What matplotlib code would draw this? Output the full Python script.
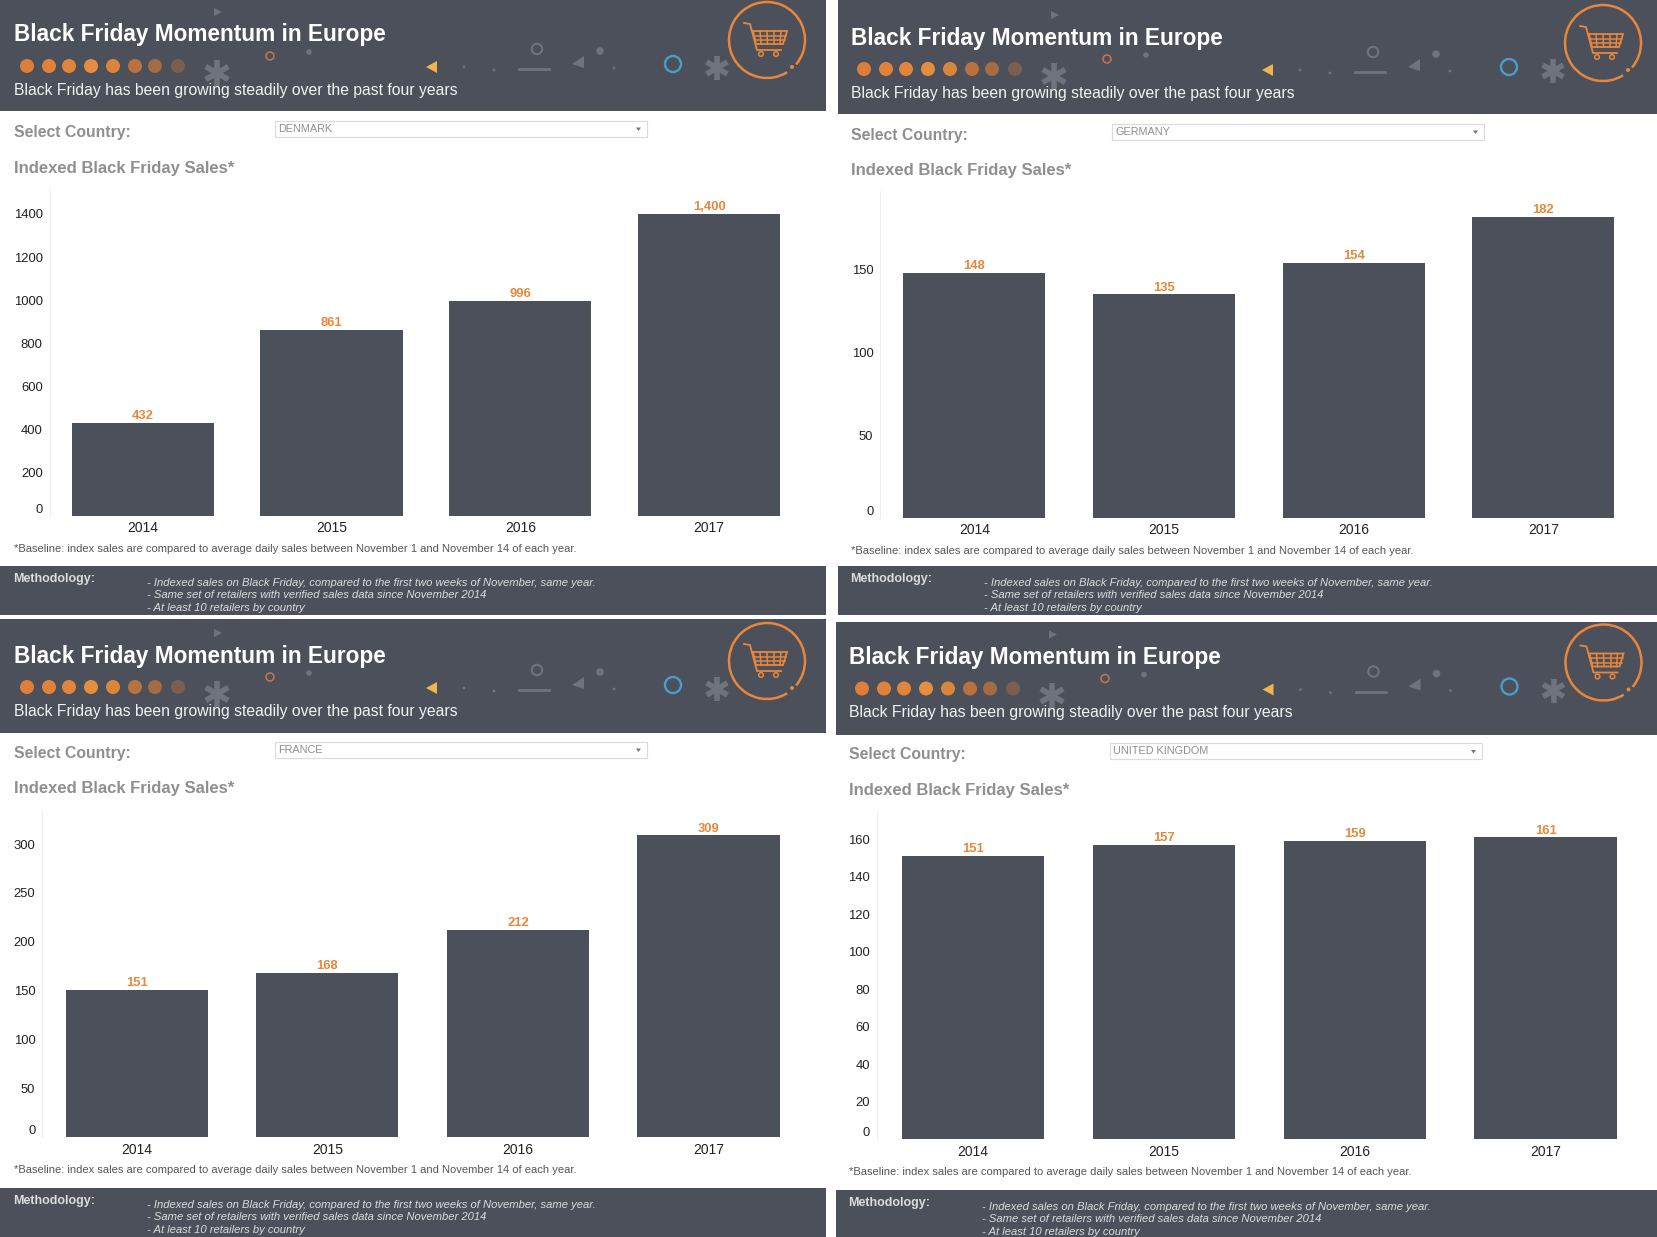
import numpy as np
import matplotlib
matplotlib.use("Agg")
import matplotlib.pyplot as plt
from matplotlib.patches import Rectangle, Circle, Polygon, Arc

plt.rcParams['font.family'] = ['Liberation Sans', 'DejaVu Sans']

W, H = 1657, 1237
S = 1657 / 1568

years = ['2014', '2015', '2016', '2017']
denmark = [432, 861, 996, 1400]
germany = [148, 135, 154, 182]
france = [151, 168, 212, 309]
uk = [151, 157, 159, 161]
denmark_ticks = [0, 200, 400, 600, 800, 1000, 1200, 1400]
germany_ticks = [0, 50, 100, 150]
france_ticks = [0, 50, 100, 150, 200, 250, 300]
uk_ticks = [0, 20, 40, 60, 80, 100, 120, 140, 160]

title = 'Black Friday Momentum in Europe'
subtitle = 'Black Friday has been growing steadily over the past four years'
select_label = 'Select Country:'
chart_title = 'Indexed Black Friday Sales*'
footnote = '*Baseline: index sales are compared to average daily sales between November 1 and November 14 of each year.'
method_label = 'Methodology:'
method_lines = ['- Indexed sales on Black Friday, compared to the first two weeks of November, same year.',
                '- Same set of retailers with verified sales data since November 2014',
                '- At least 10 retailers by country']

DARK = '#4B505A'
ORANGE = '#E8873B'
GREY = '#8F8F8F'
DECO = '#6E737C'

dot_colors = ['#DE7E38', '#E0823A', '#E0853B', '#E38F3F', '#D9853C', '#B9723F', '#A46B45', '#7C5E50']
dot_x = [27, 49, 69, 91, 113, 135, 155, 178]

fig = plt.figure(figsize=(W / 100, H / 100), dpi=100, facecolor='white')
bg = fig.add_axes([0, 0, 1, 1])
bg.set_xlim(0, W)
bg.set_ylim(H, 0)
bg.axis('off')


def asterisk(x, y, r, lw):
    for a in (90, 30, 150):
        dx, dy = r * np.cos(np.radians(a)), r * np.sin(np.radians(a))
        bg.plot([x - dx, x + dx], [y - dy, y + dy], color=DECO, lw=lw, solid_capstyle='butt', zorder=2)


def header(dx, dy, rdx, left, right, top, bottom):
    bg.add_patch(Rectangle((left, top), right - left, bottom - top, color=DARK, lw=0, zorder=1))
    X = lambda v: v + dx
    R = lambda v: v + dx + rdx
    Y = lambda v: v + dy
    for x, c in zip(dot_x, dot_colors):
        bg.add_patch(Circle((X(x), Y(66)), 7, color=c, lw=0, zorder=3))
    asterisk(X(217), Y(73), 13, 4.0)
    asterisk(R(717), Y(68), 12, 4.0)
    bg.add_patch(Circle((X(270), Y(56)), 4, fill=False, ec='#C8754A', lw=1.1, zorder=3))
    bg.add_patch(Circle((X(309), Y(52)), 2.8, color=DECO, lw=0, zorder=3))
    bg.add_patch(Polygon([(X(214), Y(8)), (X(214), Y(16)), (X(222), Y(12))], color=DECO, lw=0, zorder=3))
    bg.add_patch(Polygon([(R(426), Y(67)), (R(437), Y(61)), (R(437), Y(73))], color='#F0B44C', lw=0, zorder=3))
    for x, y in [(464, 67), (494, 70), (614, 68)]:
        bg.add_patch(Circle((R(x), Y(y)), 1.4, color=DECO, lw=0, zorder=3))
    bg.add_patch(Circle((R(537), Y(49)), 5.2, fill=False, ec=DECO, lw=1.5, zorder=3))
    bg.plot([R(519), R(549)], [Y(69), Y(69)], color=DECO, lw=2, zorder=3)
    bg.add_patch(Polygon([(R(572), Y(64)), (R(584), Y(56)), (R(584), Y(68))], color=DECO, lw=0, zorder=3))
    bg.add_patch(Circle((R(600), Y(51)), 3.8, color=DECO, lw=0, zorder=3))
    bg.add_patch(Circle((R(673), Y(64)), 8, fill=False, ec='#4C9CCB', lw=1.7, zorder=3))
    # cart badge
    bg.add_patch(Arc((R(767), Y(40)), 76, 76, theta1=58, theta2=400, color=ORANGE, lw=1.8, zorder=3))
    bg.add_patch(Circle((R(792), Y(67)), 2, color=ORANGE, lw=0, zorder=3))
    cart_x = [744, 750, 757, 781]
    cart_y = [23, 24, 50, 50]
    bg.plot([R(v) for v in cart_x], [Y(v) for v in cart_y], color=ORANGE, lw=1.3, zorder=3)
    bg.add_patch(Polygon([(R(753), Y(31)), (R(787), Y(31)), (R(783), Y(44)), (R(756), Y(44))],
                         fill=False, ec=ORANGE, lw=1.3, zorder=3))
    for y, a, b in [(35.5, 754, 786), (40, 755, 785)]:
        bg.plot([R(a), R(b)], [Y(y), Y(y)], color=ORANGE, lw=1.1, zorder=3)
    for a, b in [(760, 761), (767, 767.5), (774, 774), (781, 780)]:
        bg.plot([R(a), R(b)], [Y(31), Y(44)], color=ORANGE, lw=1.1, zorder=3)
    for x in (761, 776):
        bg.add_patch(Circle((R(x), Y(54)), 2.3, fill=False, ec=ORANGE, lw=1.1, zorder=3))
    # header text
    bg.text(X(14), Y(35), title, color='white', fontsize=16.3, fontweight='bold', va='center', zorder=4)
    bg.text(X(14), Y(90.5), subtitle, color='#F2F2F2', fontsize=11.36, va='center', zorder=4)
    bg.text(X(14), Y(132.5), select_label, color=GREY, fontsize=11.3, fontweight='bold', va='center', zorder=4)
    bg.text(X(14), Y(168), chart_title, color=GREY, fontsize=12, fontweight='bold', va='center', zorder=4)


def dropdown(dx, dy, name):
    bg.add_patch(Rectangle((275 + dx, 120.5 + dy), 372, 16, fc='white', ec='#DCDCDC', lw=0.9, zorder=3))
    bg.text(278 + dx, 129 + dy, name, color=GREY, fontsize=7.8, va='center', zorder=4)
    bg.add_patch(Polygon([(636 + dx, 127.5 + dy), (641 + dx, 127.5 + dy), (638.5 + dx, 131 + dy)],
                         color='#777777', lw=0, zorder=4))


def footer(dx, left, right, top, bottom, foot_y):
    bg.text(dx + 14, foot_y + 1, footnote, color='#555555', fontsize=8.0, va='center', zorder=4)
    bg.add_patch(Rectangle((left, top), right - left, bottom - top, color=DARK, lw=0, zorder=1))
    bg.text(dx + 13, top + 13, method_label, color='#DCDCDC', fontsize=9.0, fontweight='bold', va='center', zorder=4)
    for i, line in enumerate(method_lines):
        bg.text(dx + 147, top + 17 + 12.5 * i, line, color='#DCDCDC', fontsize=8.1, style='italic',
                va='center', zorder=4)


panels = [
    dict(v=denmark, t=denmark_ticks, name='DENMARK', d=(0, 0), rdx=0, hdr=(0, 826, 0, 111), ftr=(0, 826, 566, 615), fy=547.5,
         axis=47, c=(135, 671), base=488, top=202.5, right=760),
    dict(v=germany, t=germany_ticks, name='GERMANY', d=(837, 3), rdx=-1, hdr=(838, 1657, 0, 114), ftr=(838, 1657, 566, 615), fy=549.5,
         axis=833, c=(922, 1460.5), base=490, top=205, right=1550),
    dict(v=france, t=france_ticks, name='FRANCE', d=(0, 621), rdx=0, hdr=(0, 826, 619, 733), ftr=(0, 826, 1188, 1237), fy=1169,
         axis=40, c=(129.5, 670.5), base=1076, top=790.5, right=760),
    dict(v=uk, t=uk_ticks, name='UNITED KINGDOM', d=(835, 622.5), rdx=1.5, hdr=(836, 1657, 622, 735), ftr=(836, 1657, 1190, 1237), fy=1171,
         axis=830, c=(920.5, 1462.5), base=1078, top=792.5, right=1552),
]

TOP_EXTRA = 24

for p in panels:
    dx, dy = p['d']
    header(dx, dy, p['rdx'], *p['hdr'])
    dropdown(dx, dy, p['name'])
    footer(dx, *p['ftr'], p['fy'])

    pitch = (p['c'][1] - p['c'][0]) / 3
    ppu = (p['base'] - p['top']) / max(p['v'])
    ax = fig.add_axes([p['axis'] * S / W, 1 - p['base'] * S / H,
                       (p['right'] - p['axis']) * S / W, (p['base'] - p['top'] + TOP_EXTRA) * S / H],
                      facecolor='none')
    ax.set_xlim((p['axis'] - p['c'][0]) / pitch, (p['right'] - p['c'][0]) / pitch)
    ax.set_ylim(0, (p['base'] - p['top'] + TOP_EXTRA) / ppu)
    x = np.arange(len(years))
    ax.bar(x, p['v'], width=134.5 / pitch, color=DARK, linewidth=0)
    for xi, v in zip(x, p['v']):
        ax.annotate(f'{v:,}', (xi, v), xytext=(0, 0.6), textcoords='offset points', ha='center', va='bottom',
                    color=ORANGE, fontsize=9.4, fontweight='bold')
    ax.set_xticks(x, years)
    ax.set_yticks(p['t'], [str(t) for t in p['t']])
    ax.tick_params(axis='both', length=0, labelcolor='#222222')
    ax.tick_params(axis='x', pad=4, labelsize=10)
    ax.tick_params(axis='y', pad=5, labelsize=9.4)
    for lab, t in zip(ax.get_yticklabels(), p['t']):
        if t == 0:
            lab.set_verticalalignment('bottom')
    for s in ('top', 'right', 'bottom'):
        ax.spines[s].set_visible(False)
    ax.spines['left'].set_color('#EFEFEF')
    ax.spines['left'].set_linewidth(0.8)

fig.savefig('out.png', dpi=100, facecolor='white')
